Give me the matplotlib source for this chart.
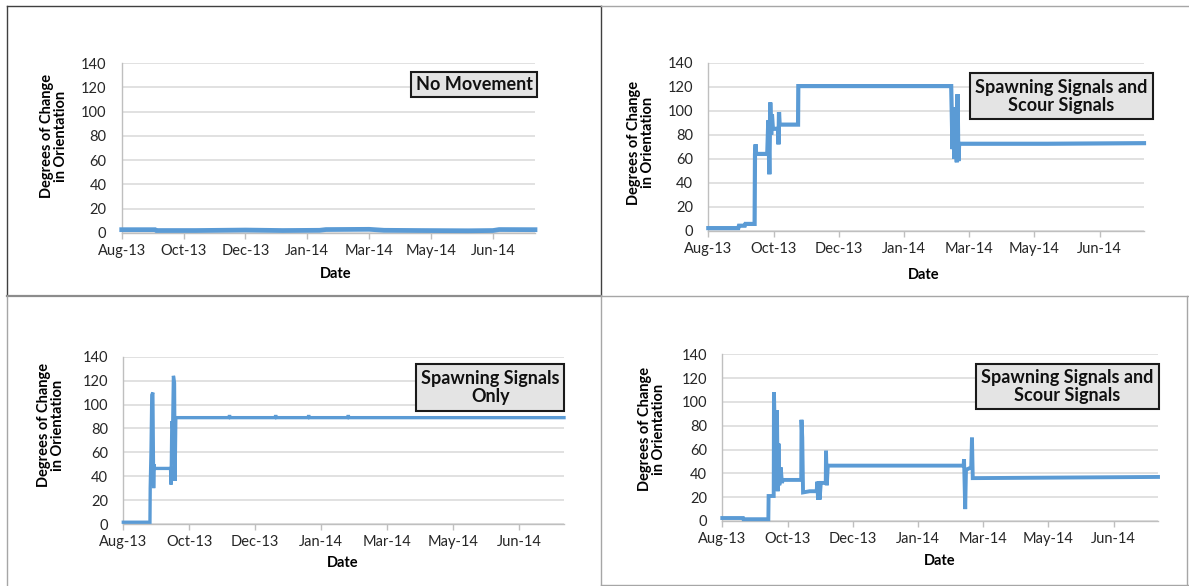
import datetime as dt
import matplotlib
matplotlib.use("Agg")
import matplotlib.pyplot as plt
import matplotlib.dates as mdates
from matplotlib.patches import Rectangle
from matplotlib.lines import Line2D

plt.rcParams['font.family'] = ['Lato', 'DejaVu Sans']

# ---------------- data (days after 27 Aug 2013, degrees) ----------------
START = dt.datetime(2013, 8, 27)
AXIS_DAYS = 334
TICK_STEP_DAYS = 50
y_ticks = [0, 20, 40, 60, 80, 100, 120, 140]

days_no_move = [0, 27, 28, 60, 100, 130, 160, 165, 200, 212, 240, 280, 300, 305, 334]
vals_no_move = [2.5, 2.5, 1.8, 1.8, 2.2, 1.8, 2.0, 2.6, 2.8, 2.0, 1.8, 1.6, 1.8, 2.6, 2.5]

days_scour1 = [0, 15, 23, 23.5, 28, 28.5, 35.5, 35.8, 36.3, 36.6, 37, 45.2, 46, 46.8,
               47.5, 48.2, 48.8, 49.5, 53.5, 53.8, 54.2, 54.7, 68.8, 69.0, 186.2,
               186.6, 187.2, 187.8, 188.6, 189.5, 190.5, 191.1, 191.7, 192.3, 260, 334]
vals_scour1 = [2, 2, 2, 4, 4, 5.5, 5.5, 64, 72, 64, 64, 64, 92, 47,
               107, 80, 97, 85, 85, 72, 99, 88.5, 88.5, 120.7, 120.7,
               100, 68, 103, 60, 75, 57, 114, 58, 72.5, 72.5, 73]

days_spawn = [0, 20.2, 20.4, 21.0, 21.6, 22.4, 23.0, 23.3, 23.6, 35.8, 36.2, 36.8,
              37.4, 38.0, 38.8, 39.2, 39.8, 80, 80.5, 81, 115, 115.5, 116, 140,
              140.5, 141, 170, 170.5, 171, 334]
vals_spawn = [1.5, 1.5, 30, 60, 108, 110, 30, 50, 46.5, 46.5, 33, 86,
              80, 124, 118, 36, 89, 89, 91, 89, 89, 91, 89, 89,
              91, 89, 89, 91, 89, 89]

days_scour2 = [0, 15.9, 16.2, 35.3, 35.5, 39.4, 39.6, 40.5, 41.3, 41.9, 42.5, 43.1,
               43.7, 44.8, 45.7, 46.5, 60.5, 60.7, 61.3, 61.9, 67, 72.3, 72.9, 73.4,
               74.0, 74.6, 75.5, 76.3, 79.3, 79.5, 80.1, 80.9, 185.0, 185.3, 186.2,
               186.8, 190.8, 191.4, 192.0, 334]
vals_scour2 = [2.5, 2.5, 1.5, 1.5, 21, 21, 108, 60, 40, 93, 25, 65,
               30, 45, 32, 34.5, 34.5, 85, 70, 24, 25, 25, 33, 18,
               33, 18, 32, 32, 32, 59, 30, 46.5, 46.5, 52, 10,
               43, 45, 70, 36, 37]

y_label = "Degrees of Change\nin Orientation"
x_label = "Date"
titles = ["No Movement", "Spawning Signals and\nScour Signals",
          "Spawning Signals\nOnly", "Spawning Signals and\nScour Signals"]

# ---------------- layout (pixels) ----------------
W, H = 1189, 586
fig = plt.figure(figsize=(W / 100, H / 100), dpi=100)

def fx(px):
    return px / W

def fy(py):
    return 1 - py / H

panels = [
    dict(ax=(121.7, 535.0, 63.3, 232.7), yl=(-0.163, 0.57), xl=(0.517, -0.244),
         box=(411.4, 537.0, 71.7, 97.3), days=days_no_move, vals=vals_no_move, lw=3.4),
    dict(ax=(708.3, 1144.0, 63.0, 230.5), yl=(-0.154, 0.525), xl=(0.495, -0.266),
         box=(970.3, 1152.6, 73.3, 119.3), days=days_scour1, vals=vals_scour1, lw=3.0),
    dict(ax=(123.3, 564.0, 356.7, 524.0), yl=(-0.163, 0.59), xl=(0.497, -0.233),
         box=(416.4, 564.1, 364.3, 411.0), days=days_spawn, vals=vals_spawn, lw=2.4),
    dict(ax=(722.3, 1158.0, 354.3, 521.0), yl=(-0.162, 0.55), xl=(0.5, -0.238),
         box=(975.6, 1158.9, 364.0, 409.3), days=days_scour2, vals=vals_scour2, lw=2.8),
]

line_color = "#5B9BD5"
grid_color = "#D9D9D9"
axis_color = "#BFBFBF"
x0num = mdates.date2num(START)

for p, title in zip(panels, titles):
    x0, x1, yt, yb = p["ax"]
    ax = fig.add_axes([fx(x0), fy(yb), fx(x1 - x0), (yb - yt) / H])
    xs = [x0num + d for d in p["days"]]
    ax.plot(xs, p["vals"], color=line_color, lw=p["lw"], solid_joinstyle="miter",
            clip_on=False, zorder=3)
    ax.set_xlim(x0num, x0num + AXIS_DAYS)
    ax.set_ylim(0, 140)
    ax.set_yticks(y_ticks)
    ax.set_xticks([x0num + k * TICK_STEP_DAYS for k in range(7)])
    ax.xaxis.set_major_formatter(mdates.DateFormatter("%b-%y"))
    ax.grid(axis="y", color=grid_color, lw=1.1, zorder=0)
    ax.set_axisbelow(True)
    for s in ["top", "right"]:
        ax.spines[s].set_visible(False)
    ax.spines["left"].set_color(axis_color)
    ax.spines["bottom"].set_color(axis_color)
    ax.spines["left"].set_linewidth(1.0)
    ax.spines["bottom"].set_linewidth(1.0)
    ax.tick_params(axis="y", length=0, pad=11.0, labelsize=10.5, labelcolor="#262626")
    ax.tick_params(axis="x", length=4, width=1, color=axis_color, direction="out",
                   pad=4.0, labelsize=10.5, labelcolor="#262626")
    ax.set_ylabel(y_label, fontsize=10.5, fontweight="bold", linespacing=1.0)
    ax.yaxis.set_label_coords(*p["yl"])
    ax.yaxis.label.set_va("center")
    ax.set_xlabel(x_label, fontsize=10.5, fontweight="bold")
    ax.xaxis.set_label_coords(*p["xl"])
    ax.xaxis.label.set_va("center")

    bx0, bx1, byt, byb = p["box"]
    fig.patches.append(Rectangle((fx(bx0), fy(byb)), fx(bx1 - bx0), (byb - byt) / H,
                                 transform=fig.transFigure, facecolor="#E4E4E4",
                                 edgecolor="#1a1a1a", lw=1.5, zorder=5))
    fig.text(fx((bx0 + bx1) / 2), fy((byt + byb) / 2), title, ha="center", va="center",
             fontsize=13, fontweight="bold", linespacing=1.05, color="#111111", zorder=6)

# ---------------- panel frames ----------------
def hline(y, xa, xb, color, lw):
    fig.add_artist(Line2D([fx(xa), fx(xb)], [fy(y), fy(y)], color=color, lw=lw,
                          transform=fig.transFigure))

def vline(x, ya, yb, color, lw):
    fig.add_artist(Line2D([fx(x), fx(x)], [fy(ya), fy(yb)], color=color, lw=lw,
                          transform=fig.transFigure))

dark = "#404040"
gray = "#A6A6A6"
hline(5.5, 7, 600.5, dark, 1.0)
vline(7, 5.5, 295, dark, 1.0)
vline(600.5, 5.5, 295, dark, 1.0)
hline(295.5, 7, 600.5, "#8C8C8C", 1.6)
hline(5.5, 601, 1189, gray, 1.0)
hline(295.5, 601, 1189, gray, 1.0)
vline(7, 296, 586, gray, 1.0)
vline(601, 296, 586, gray, 1.0)
vline(1187, 296, 586, gray, 1.0)
hline(584.5, 601, 1189, gray, 1.0)

fig.savefig("out.png", dpi=100)
